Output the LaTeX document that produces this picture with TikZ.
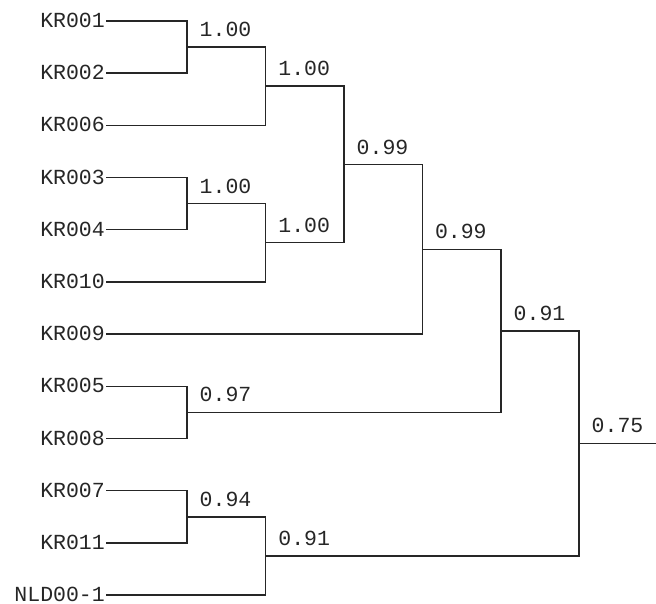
\documentclass[tikz,border=0pt]{standalone}
\usepackage{fontspec}
\setmonofont{Liberation Mono}
\begin{document}
\begin{tikzpicture}[x=1pt,y=-0.997pt,
  leaf/.style={anchor=east,inner xsep=2pt,inner ysep=0pt,text height=13pt,text depth=0pt,
    font=\ttfamily\fontsize{21.5}{25}\selectfont,text=black!85},
  val/.style={anchor=base west,inner sep=0pt,font=\ttfamily\fontsize{21.5}{25}\selectfont,text=black!85},
  branch/.style={draw=black!85,line width=1.4pt,line cap=rect}]
\useasboundingbox (0,0) rectangle (656,605.82);

% leaves
\node[leaf] (kr001) at (107,21.00)  {KR001};
\node[leaf] (kr002) at (107,73.36)  {KR002};
\node[leaf] (kr006) at (107,125.72) {KR006};
\node[leaf] (kr003) at (107,178.08) {KR003};
\node[leaf] (kr004) at (107,230.44) {KR004};
\node[leaf] (kr010) at (107,282.80) {KR010};
\node[leaf] (kr009) at (107,335.16) {KR009};
\node[leaf] (kr005) at (107,387.52) {KR005};
\node[leaf] (kr008) at (107,439.88) {KR008};
\node[leaf] (kr007) at (107,492.24) {KR007};
\node[leaf] (kr011) at (107,544.60) {KR011};
\node[leaf] (nld)   at (107,596.96) {NLD00-1};

% internal joins
\coordinate (a) at (187,47.18);
\coordinate (b) at (265.7,86.45);
\coordinate (c) at (187,204.26);
\coordinate (d) at (265.7,243.53);
\coordinate (e) at (344,164.99);
\coordinate (f) at (422.3,250.08);
\coordinate (g) at (187,413.70);
\coordinate (h) at (501,331.89);
\coordinate (i) at (187,518.42);
\coordinate (j) at (265.7,557.69);
\coordinate (k) at (579,444.79);
\coordinate (root) at (656,444.79);

% branches
\draw[branch] (kr001.east) -| (a);
\draw[branch] (kr002.east) -| (a);
\draw[branch] (a) -| (b);
\draw[branch] (kr006.east) -| (b);
\draw[branch] (kr003.east) -| (c);
\draw[branch] (kr004.east) -| (c);
\draw[branch] (c) -| (d);
\draw[branch] (kr010.east) -| (d);
\draw[branch] (b) -| (e);
\draw[branch] (d) -| (e);
\draw[branch] (e) -| (f);
\draw[branch] (kr009.east) -| (f);
\draw[branch] (kr005.east) -| (g);
\draw[branch] (kr008.east) -| (g);
\draw[branch] (f) -| (h);
\draw[branch] (g) -| (h);
\draw[branch] (kr007.east) -| (i);
\draw[branch] (kr011.east) -| (i);
\draw[branch] (i) -| (j);
\draw[branch] (nld.east) -| (j);
\draw[branch] (h) -| (k);
\draw[branch] (j) -| (k);
\draw[branch] (k) -- (root);

% support values
\node[val] (va) at ([shift={(12.5,-10.5)}]a) {1.00};
\node[val] (vb) at ([shift={(12.5,-10.5)}]b) {1.00};
\node[val] (vc) at ([shift={(12.5,-10.5)}]c) {1.00};
\node[val] (vd) at ([shift={(12.5,-10.5)}]d) {1.00};
\node[val] (ve) at ([shift={(12.5,-10.5)}]e) {0.99};
\node[val] (vf) at ([shift={(12.5,-10.5)}]f) {0.99};
\node[val] (vg) at ([shift={(12.5,-10.5)}]g) {0.97};
\node[val] (vh) at ([shift={(12.5,-10.5)}]h) {0.91};
\node[val] (vi) at ([shift={(12.5,-10.5)}]i) {0.94};
\node[val] (vj) at ([shift={(12.5,-10.5)}]j) {0.91};
\node[val] (vk) at ([shift={(12.5,-10.5)}]k) {0.75};
\end{tikzpicture}
\end{document}
